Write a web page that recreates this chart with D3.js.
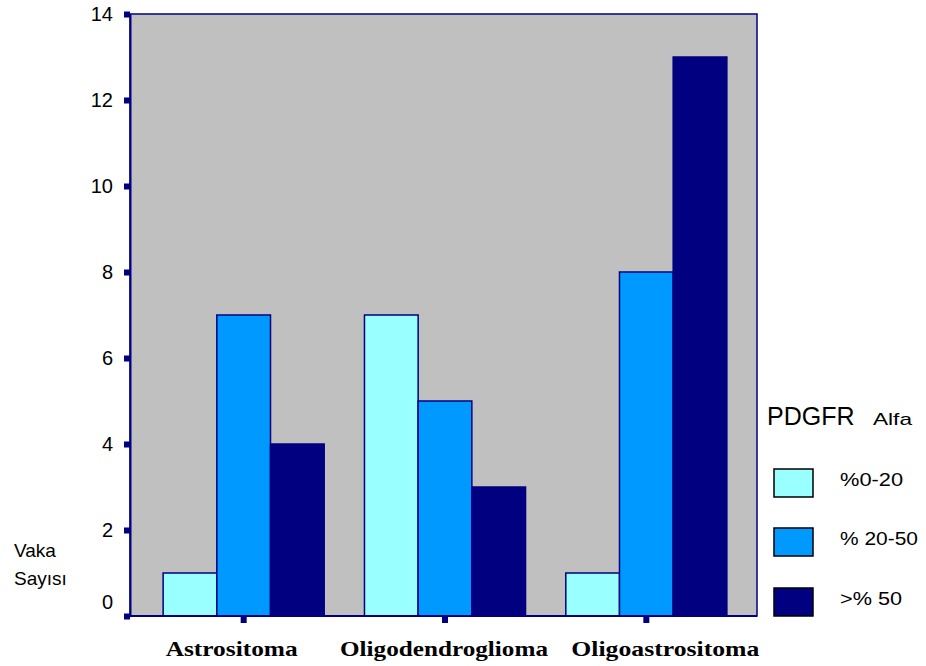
<!DOCTYPE html>
<html>
<head>
<meta charset="utf-8">
<script src="https://cdn.jsdelivr.net/npm/d3@7"></script>
<style>
  html, body { margin: 0; padding: 0; background: #ffffff; }
  svg { display: block; }
</style>
</head>
<body>
<svg id="chart" width="926" height="666"></svg>
<script>
// Tumour types along the x axis
const categories = ["Astrositoma", "Oligodendroglioma", "Oligoastrositoma"];
// PDGFR alfa staining groups
const seriesNames = ["%0-20", "% 20-50", ">% 50"];
// Case counts per tumour type, one array per staining group
const seriesLow = [1, 7, 1];
const seriesMid = [7, 5, 8];
const seriesHigh = [4, 3, 13];
const yTicks = [0, 2, 4, 6, 8, 10, 12, 14];

const seriesValues = [seriesLow, seriesMid, seriesHigh];
const colors = ["#99ffff", "#0099ff", "#000080"];

const svg = d3.select("#chart");
const plot = { left: 130, right: 757, top: 14, bottom: 616 };

const y = d3.scaleLinear().domain([0, 14]).range([plot.bottom, plot.top]);
const x0 = d3.scaleBand().domain(categories)
  .range([143, 747]).paddingInner(0.2).paddingOuter(0.1);
const x1 = d3.scaleBand().domain(d3.range(seriesNames.length))
  .range([0, x0.bandwidth()]);

// grey plot background
svg.append("rect")
  .attr("x", plot.left).attr("y", plot.top)
  .attr("width", plot.right - plot.left).attr("height", plot.bottom - plot.top)
  .attr("fill", "#c0c0c0")
  .attr("stroke", "#000080").attr("stroke-width", 1.5);

// bars
const groups = svg.selectAll("g.cat").data(categories).join("g")
  .attr("class", "cat")
  .attr("transform", d => `translate(${x0(d)},0)`);
groups.selectAll("rect")
  .data((d, ci) => seriesValues.map((vals, si) => ({ si, v: vals[ci] })))
  .join("rect")
  .attr("x", d => x1(d.si))
  .attr("width", x1.bandwidth())
  .attr("y", d => y(d.v))
  .attr("height", d => y(0) - y(d.v))
  .attr("fill", d => colors[d.si])
  .attr("stroke", "#000080")
  .attr("stroke-width", 1.5);

// y axis
const yAxis = d3.axisLeft(y).tickValues(yTicks).tickSize(0).tickPadding(17);
const ya = svg.append("g").attr("transform", `translate(${plot.left},0)`).call(yAxis);
ya.select(".domain").attr("stroke", "#000080").attr("stroke-width", 2);
ya.selectAll(".tick text")
  .attr("font-family", "Liberation Sans, Arial, sans-serif")
  .attr("font-size", 20).attr("fill", "#000")
  // the zero label sits a little above its tick so it clears the axis
  .attr("y", d => d === 0 ? -14 : 0);
ya.selectAll(".tick").append("rect")
  .attr("x", -6).attr("y", -3).attr("width", 6).attr("height", 6)
  .attr("fill", "#000080");

// x axis
const xAxis = d3.axisBottom(x0).tickSize(0).tickPadding(24);
const xa = svg.append("g").attr("transform", `translate(0,${plot.bottom})`).call(xAxis);
xa.select(".domain").remove();
svg.append("line")
  .attr("x1", plot.left).attr("x2", plot.right)
  .attr("y1", plot.bottom).attr("y2", plot.bottom)
  .attr("stroke", "#000080").attr("stroke-width", 2);
// category label nudges and widths (the label font is a wide bold serif)
const labelShift = [-12, -1, 19];
const labelWidth = [132, 208, 188];
xa.selectAll(".tick text")
  .attr("font-family", "Liberation Serif, Times New Roman, serif")
  .attr("font-weight", "bold")
  .attr("font-size", 22).attr("fill", "#000")
  .attr("x", (d, i) => labelShift[i])
  .attr("textLength", (d, i) => labelWidth[i])
  .attr("lengthAdjust", "spacingAndGlyphs");
xa.selectAll(".tick").append("rect")
  .attr("x", -3).attr("y", 0).attr("width", 6).attr("height", 7)
  .attr("fill", "#000080");

// y axis title
const yt = svg.append("text")
  .attr("font-family", "Liberation Sans, Arial, sans-serif")
  .attr("font-size", 19).attr("fill", "#000");
yt.append("tspan").attr("x", 14).attr("y", 557).text("Vaka");
yt.append("tspan").attr("x", 14).attr("y", 585).text("Sayısı");

// legend
const legend = svg.append("g");
const lt = legend.append("text")
  .attr("x", 767).attr("y", 425)
  .attr("font-family", "Liberation Sans, Arial, sans-serif")
  .attr("fill", "#000");
lt.append("tspan").attr("font-size", 25).text("PDGFR");
lt.append("tspan").attr("x", 873).attr("font-size", 17)
  .attr("textLength", 39).attr("lengthAdjust", "spacingAndGlyphs").text("Alfa");

const legendY = [469, 528, 588];
const legendTextW = [63, 78, 62];
seriesNames.forEach((name, i) => {
  legend.append("rect")
    .attr("x", 774).attr("y", legendY[i])
    .attr("width", 39).attr("height", 28)
    .attr("fill", colors[i])
    .attr("stroke", "#000").attr("stroke-width", 1.5);
  legend.append("text")
    .attr("x", 840).attr("y", legendY[i] + 17)
    .attr("font-family", "Liberation Sans, Arial, sans-serif")
    .attr("font-size", 19).attr("fill", "#000")
    .attr("textLength", legendTextW[i]).attr("lengthAdjust", "spacingAndGlyphs")
    .text(name);
});
</script>
</body>
</html>
